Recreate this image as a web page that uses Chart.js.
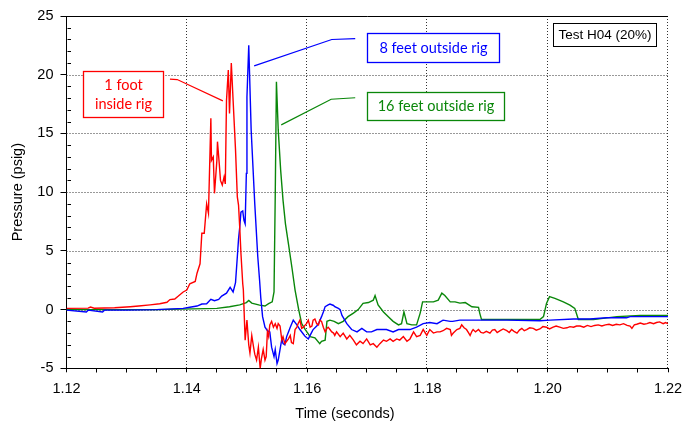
<!DOCTYPE html>
<html>
<head>
<meta charset="utf-8">
<script src="https://cdn.jsdelivr.net/npm/chart.js@4.4.1/dist/chart.umd.min.js"></script>
<style>
  html, body { margin: 0; padding: 0; background: #fff; }
  canvas { display: block; }
</style>
</head>
<body>
<canvas id="chart" width="695" height="428"></canvas>
<script>
// Axis tick labels
const xTickLabels = ['1.12', '1.14', '1.16', '1.18', '1.20', '1.22'];
const yTickLabels = ['-5', '0', '5', '10', '15', '20', '25'];

// Gauge names
const seriesNames = ['1 foot inside rig', '8 feet outside rig', '16 feet outside rig'];

// Pressure traces: [time (s), pressure (psig)]
const redTrace = [
  [1.1200,0.10],[1.1236,0.12],[1.1240,0.22],[1.1246,0.12],[1.1280,0.15],[1.1306,0.24],[1.1320,0.30],[1.1339,0.40],[1.1355,0.50],[1.1367,0.62],
  [1.1372,0.85],[1.1380,0.90],[1.1386,1.15],[1.1394,1.50],[1.1400,1.66],[1.1405,2.20],[1.1414,2.40],[1.1417,3.10],[1.1422,3.90],[1.1425,6.50],
  [1.1429,6.50],[1.1433,9.00],[1.1436,8.20],[1.1440,16.30],[1.1441,12.70],[1.1444,13.00],[1.1446,9.90],[1.1450,12.70],[1.1451,14.30],[1.1454,12.40],
  [1.1456,11.00],[1.1459,10.60],[1.1462,11.30],[1.1464,10.70],[1.1466,17.80],[1.1469,20.40],[1.1471,16.70],[1.1474,21.00],[1.1477,17.80],[1.1481,13.60],
  [1.1484,9.60],[1.1486,8.90],[1.1488,7.00],[1.1490,4.80],[1.1493,2.20],[1.1494,1.70],[1.1497,-2.60],[1.1500,-0.90],[1.1503,-3.00],[1.1505,-3.70],
  [1.1508,-2.20],[1.1511,-3.20],[1.1513,-3.80],[1.1516,-4.30],[1.1519,-3.20],[1.1522,-5.00],[1.1524,-4.20],[1.1527,-3.40],[1.1530,-4.30],[1.1532,-4.00],
  [1.1534,-1.90],[1.1536,-2.30],[1.1538,-1.30],[1.1541,-1.00],[1.1544,-1.50],[1.1547,-1.20],[1.1550,-1.60],[1.1552,-1.20],[1.1555,-1.40],[1.1558,-2.60],
  [1.1560,-2.30],[1.1563,-2.90],[1.1566,-2.70],[1.1569,-2.50],[1.1572,-2.20],[1.1574,-2.80],[1.1577,-2.90],[1.1580,-1.70],[1.1583,-1.50],[1.1585,-1.20],
  [1.1588,-0.90],[1.1591,-1.60],[1.1594,-1.50],[1.1597,-1.30],[1.1599,-1.20],[1.1602,-0.90],[1.1605,-1.50],[1.1608,-1.40],[1.1610,-0.90],[1.1613,-0.80],
  [1.1616,-1.20],[1.1619,-1.30],[1.1621,-0.90],[1.1624,-1.00],[1.1627,-1.50],[1.1630,-1.90],[1.1633,-1.60],[1.1635,-1.50],[1.1638,-1.70],[1.1641,-1.90],
  [1.1644,-2.00],[1.1646,-2.20],[1.1649,-1.90],[1.1655,-2.30],[1.1660,-2.00],[1.1666,-2.50],[1.1671,-2.20],[1.1677,-2.60],[1.1682,-3.00],[1.1688,-2.70],
  [1.1693,-2.90],[1.1699,-2.50],[1.1705,-3.00],[1.1710,-2.90],[1.1716,-3.20],[1.1721,-2.90],[1.1727,-2.60],[1.1732,-2.70],[1.1738,-2.50],[1.1743,-2.70],
  [1.1749,-2.50],[1.1754,-2.60],[1.1760,-2.30],[1.1766,-2.70],[1.1771,-2.50],[1.1777,-1.90],[1.1782,-2.30],[1.1788,-2.20],[1.1793,-1.70],[1.1799,-2.20],
  [1.1804,-1.70],[1.1810,-2.00],[1.1816,-1.90],[1.1821,-1.90],[1.1826,-1.80],[1.1832,-1.60],[1.1838,-1.70],[1.1840,-2.20],[1.1843,-2.00],[1.1849,-1.70],
  [1.1854,-1.60],[1.1857,-1.30],[1.1861,-1.55],[1.1865,-1.70],[1.1868,-1.95],[1.1871,-2.20],[1.1874,-1.85],[1.1876,-1.70],[1.1880,-1.90],[1.1885,-1.70],
  [1.1889,-1.95],[1.1893,-2.00],[1.1898,-1.85],[1.1904,-2.00],[1.1908,-1.75],[1.1912,-1.70],[1.1916,-1.95],[1.1921,-1.80],[1.1926,-1.65],[1.1932,-1.80],
  [1.1936,-1.95],[1.1940,-1.70],[1.1944,-1.85],[1.1949,-2.00],[1.1953,-1.75],[1.1957,-1.60],[1.1961,-1.80],[1.1965,-1.70],[1.1970,-1.55],[1.1976,-1.60],
  [1.1981,-1.75],[1.1987,-1.65],[1.1992,-1.45],[1.1998,-1.50],[1.2003,-1.65],[1.2009,-1.50],[1.2014,-1.40],[1.2020,-1.50],[1.2026,-1.60],[1.2032,-1.55],
  [1.2037,-1.45],[1.2043,-1.50],[1.2048,-1.40],[1.2054,-1.40],[1.2060,-1.50],[1.2066,-1.35],[1.2072,-1.45],[1.2078,-1.35],[1.2084,-1.30],[1.2090,-1.40],
  [1.2096,-1.30],[1.2102,-1.25],[1.2108,-1.35],[1.2114,-1.25],[1.2120,-1.30],[1.2126,-1.20],[1.2132,-1.35],[1.2137,-1.40],[1.2140,-1.60],[1.2144,-1.30],
  [1.2148,-1.25],[1.2154,-1.15],[1.2160,-1.25],[1.2165,-1.20],[1.2170,-1.10],[1.2176,-1.20],[1.2181,-1.10],[1.2186,-1.05],[1.2192,-1.20],[1.2196,-1.10],
  [1.2200,-1.20]
];

const blueTrace = [
  [1.1200,-0.05],[1.1233,-0.20],[1.1236,-0.05],[1.1260,-0.20],[1.1263,-0.05],[1.1300,-0.05],[1.1350,0.00],[1.1394,0.10],[1.1405,0.20],[1.1417,0.30],
  [1.1425,0.47],[1.1433,0.50],[1.1440,0.87],[1.1446,0.75],[1.1453,0.87],[1.1458,1.15],[1.1466,1.40],[1.1472,1.90],[1.1477,1.50],[1.1481,2.30],
  [1.1484,4.50],[1.1486,6.00],[1.1488,7.00],[1.1490,8.30],[1.1493,8.40],[1.1495,7.60],[1.1497,7.30],[1.1499,11.60],[1.1500,18.10],[1.1503,22.50],
  [1.1507,15.30],[1.1513,9.00],[1.1518,4.50],[1.1521,2.50],[1.1523,1.00],[1.1526,-0.60],[1.1530,-1.50],[1.1534,-1.80],[1.1538,-1.90],[1.1541,-3.20],
  [1.1545,-4.00],[1.1547,-3.40],[1.1550,-4.60],[1.1552,-4.30],[1.1555,-3.40],[1.1558,-2.50],[1.1560,-2.90],[1.1563,-3.00],[1.1566,-2.30],[1.1569,-1.90],
  [1.1572,-1.50],[1.1577,-0.90],[1.1583,-1.30],[1.1588,-1.70],[1.1594,-2.10],[1.1597,-2.30],[1.1602,-2.50],[1.1608,-1.90],[1.1610,-1.70],[1.1616,-1.40],
  [1.1619,-1.20],[1.1624,-0.60],[1.1627,-0.20],[1.1630,0.25],[1.1635,0.40],[1.1638,0.47],[1.1644,0.35],[1.1646,0.25],[1.1652,0.10],[1.1655,0.00],
  [1.1658,-0.50],[1.1666,-1.20],[1.1674,-1.70],[1.1683,-1.90],[1.1691,-1.60],[1.1699,-1.90],[1.1707,-1.90],[1.1716,-1.70],[1.1724,-1.70],[1.1732,-1.70],
  [1.1743,-1.90],[1.1752,-1.70],[1.1760,-1.70],[1.1771,-1.70],[1.1782,-1.50],[1.1793,-1.20],[1.1804,-1.10],[1.1816,-1.20],[1.1826,-0.90],[1.1838,-1.00],
  [1.1842,-1.00],[1.1854,-0.90],[1.1876,-0.90],[1.1932,-0.90],[1.1987,-0.95],[1.2004,-0.90],[1.2043,-0.80],[1.2070,-0.80],[1.2098,-0.70],[1.2131,-0.70],
  [1.2137,-0.60],[1.2200,-0.60]
];

const greenTrace = [
  [1.1200,0.00],[1.1350,0.00],[1.1450,0.10],[1.1471,0.24],[1.1488,0.40],[1.1499,0.60],[1.1503,0.78],[1.1508,0.55],[1.1521,0.38],[1.1530,0.30],
  [1.1536,0.50],[1.1542,0.66],[1.1545,1.50],[1.1547,9.60],[1.1549,19.40],[1.1552,15.30],[1.1556,11.90],[1.1560,9.30],[1.1564,7.30],[1.1569,5.60],
  [1.1575,3.50],[1.1580,1.66],[1.1586,0.00],[1.1591,-1.20],[1.1597,-1.70],[1.1605,-2.30],[1.1613,-2.40],[1.1621,-2.90],[1.1624,-2.70],[1.1630,-2.60],
  [1.1633,-1.00],[1.1638,-0.90],[1.1645,-1.00],[1.1652,-1.20],[1.1660,-1.00],[1.1668,-0.60],[1.1677,-0.30],[1.1685,0.00],[1.1693,0.53],[1.1702,0.60],
  [1.1710,0.80],[1.1713,1.20],[1.1718,0.40],[1.1727,-0.20],[1.1735,-0.60],[1.1743,-1.00],[1.1752,-1.30],[1.1757,-1.20],[1.1761,-0.20],[1.1766,-1.20],
  [1.1774,-1.30],[1.1782,-1.30],[1.1788,-0.30],[1.1792,0.66],[1.1799,0.66],[1.1810,0.66],[1.1818,0.80],[1.1824,1.40],[1.1829,1.20],[1.1838,0.66],
  [1.1846,0.66],[1.1854,0.55],[1.1863,0.60],[1.1874,0.24],[1.1885,0.19],[1.1887,-0.30],[1.1890,-0.85],[1.1932,-0.85],[1.1987,-0.85],[1.1993,-0.60],
  [1.1998,0.53],[1.2003,1.10],[1.2012,0.95],[1.2026,0.66],[1.2037,0.38],[1.2045,0.10],[1.2051,-0.85],[1.2076,-0.85],[1.2092,-0.75],[1.2115,-0.60],
  [1.2154,-0.50],[1.2200,-0.50]
];

const RED = '#ff0000', BLUE = '#0000ff', GREEN = '#0a870a';
const toXY = trace => trace.map(([x, y]) => ({ x, y }));

// Callout boxes and leader lines, placed in axis units
const callouts = [
  { lines: ['1 foot', 'inside rig'], color: RED,
    box: [1.1227, 20.34, 1.1360, 16.43],
    leader: [[1.1372, 19.62], [1.1384, 19.59], [1.1460, 17.77]] },
  { lines: ['8 feet outside rig'], color: BLUE,
    box: [1.1699, 23.51, 1.1918, 21.04],
    leader: [[1.1512, 20.75], [1.1641, 23.00], [1.1680, 23.08]] },
  { lines: ['16 feet outside rig'], color: GREEN,
    box: [1.1699, 18.49, 1.1926, 16.13],
    leader: [[1.1557, 15.73], [1.1640, 17.91], [1.1680, 18.04]] }
];
const testLabel = { text: 'Test H04 (20%)', box: [1.2008, 24.44, 1.2180, 22.45] };

const AXIS_FONT = '"Liberation Sans", Arial, sans-serif';
const NOTE_FONT = 'Lato, "Open Sans", sans-serif';

const frame = {
  id: 'frame',
  beforeDatasetsDraw(chart) {
    const { ctx, chartArea: a, scales: { x, y } } = chart;
    ctx.save();
    ctx.strokeStyle = '#333';
    ctx.lineWidth = 1;
    ctx.setLineDash([1, 2]);
    xTickLabels.slice(1).forEach(l => {
      const px = Math.round(x.getPixelForValue(parseFloat(l))) - 0.5;
      ctx.beginPath(); ctx.moveTo(px, a.top); ctx.lineTo(px, a.bottom); ctx.stroke();
    });
    yTickLabels.slice(1, -1).forEach(l => {
      const py = Math.round(y.getPixelForValue(parseFloat(l))) + 0.5;
      ctx.beginPath(); ctx.moveTo(a.left, py); ctx.lineTo(a.right, py); ctx.stroke();
    });
    ctx.restore();
  },
  afterDatasetsDraw(chart) {
    const { ctx, chartArea: a, scales: { x, y } } = chart;
    ctx.save();
    // top edge of the plot frame
    ctx.strokeStyle = '#000';
    ctx.lineWidth = 1;
    const top = Math.round(a.top) + 0.5;
    ctx.beginPath(); ctx.moveTo(a.left, top); ctx.lineTo(a.right, top); ctx.stroke();

    // minor ticks
    const yAxisPx = Math.round(a.left) + 0.5;
    for (let v = -4; v <= 24; v++) {
      if (v % 5 === 0) continue;
      const py = Math.round(y.getPixelForValue(v)) + 0.5;
      ctx.beginPath(); ctx.moveTo(yAxisPx, py); ctx.lineTo(yAxisPx + 3.5, py); ctx.stroke();
    }
    const xAxisPx = Math.round(a.bottom) + 0.5;
    for (let k = 1; k < 20; k++) {
      if (k % 4 === 0) continue;
      const px = Math.round(x.getPixelForValue(1.12 + k * 0.005)) - 0.5;
      ctx.beginPath(); ctx.moveTo(px, xAxisPx); ctx.lineTo(px, xAxisPx + 4); ctx.stroke();
    }

    // callouts
    const P = (t, p) => [x.getPixelForValue(t), y.getPixelForValue(p)];
    callouts.forEach(c => {
      ctx.strokeStyle = c.color;
      ctx.lineWidth = 1.2;
      ctx.beginPath();
      c.leader.forEach(([t, p], i) => {
        const [px, py] = P(t, p);
        i ? ctx.lineTo(px, py) : ctx.moveTo(px, py);
      });
      ctx.stroke();
      const [x1, y1] = P(c.box[0], c.box[1]);
      const [x2, y2] = P(c.box[2], c.box[3]);
      const bx = Math.round(x1) + 0.5, by = Math.round(y1) + 0.5;
      const bw = Math.round(x2 - x1), bh = Math.round(y2 - y1);
      ctx.fillStyle = '#fff';
      ctx.fillRect(bx, by, bw, bh);
      ctx.lineWidth = 1.3;
      ctx.strokeRect(bx, by, bw, bh);
      ctx.fillStyle = c.color;
      ctx.font = '14.5px ' + NOTE_FONT;
      ctx.textAlign = 'center';
      ctx.textBaseline = 'middle';
      const cx = bx + bw / 2, cy = by + bh / 2;
      const lh = 19;
      c.lines.forEach((line, i) => {
        ctx.fillText(line, cx, cy + (i - (c.lines.length - 1) / 2) * lh);
      });
    });

    // test label
    {
      const [x1, y1] = P(testLabel.box[0], testLabel.box[1]);
      const [x2, y2] = P(testLabel.box[2], testLabel.box[3]);
      const bx = Math.round(x1) + 0.5, by = Math.round(y1) + 0.5;
      const bw = Math.round(x2 - x1), bh = Math.round(y2 - y1);
      ctx.fillStyle = '#fff';
      ctx.fillRect(bx, by, bw, bh);
      ctx.strokeStyle = '#000';
      ctx.lineWidth = 1;
      ctx.strokeRect(bx, by, bw, bh);
      ctx.fillStyle = '#000';
      ctx.font = '13.5px ' + AXIS_FONT;
      ctx.textAlign = 'center';
      ctx.textBaseline = 'middle';
      ctx.fillText(testLabel.text, bx + bw / 2, by + bh / 2 + 0.5);
    }

    // axis titles
    ctx.fillStyle = '#000';
    ctx.font = '14.5px ' + AXIS_FONT;
    ctx.textAlign = 'center';
    ctx.textBaseline = 'middle';
    ctx.fillText('Time (seconds)', 345, 414);
    ctx.translate(18, (a.top + a.bottom) / 2);
    ctx.rotate(-Math.PI / 2);
    ctx.fillText('Pressure (psig)', 0, 0);
    ctx.restore();
  }
};

const lineStyle = color => ({
  borderColor: color, backgroundColor: color, borderWidth: 1.4,
  pointRadius: 0, tension: 0, fill: false
});

new Chart(document.getElementById('chart'), {
  type: 'line',
  data: {
    datasets: [
      { label: seriesNames[0], data: toXY(redTrace), ...lineStyle(RED) },
      { label: seriesNames[1], data: toXY(blueTrace), ...lineStyle(BLUE) },
      { label: seriesNames[2], data: toXY(greenTrace), ...lineStyle(GREEN) }
    ]
  },
  options: {
    responsive: false,
    animation: false,
    devicePixelRatio: 1,
    layout: { padding: { left: 0, right: 27, top: 16, bottom: 0 } },
    plugins: { legend: { display: false }, tooltip: { enabled: false } },
    scales: {
      x: {
        type: 'linear',
        min: parseFloat(xTickLabels[0]),
        max: parseFloat(xTickLabels[xTickLabels.length - 1]),
        afterBuildTicks: s => { s.ticks = xTickLabels.map(l => ({ value: parseFloat(l) })); },
        afterFit: s => { s.height = 59.7; },
        ticks: {
          autoSkip: false, maxRotation: 0, padding: 8, color: '#000',
          font: { family: AXIS_FONT, size: 14.5 },
          callback: (v, i) => xTickLabels[i]
        },
        grid: { drawOnChartArea: false, drawTicks: true, tickLength: 4, color: '#000', lineWidth: 1 },
        border: { display: true, color: '#000', width: 1 }
      },
      y: {
        type: 'linear',
        min: parseFloat(yTickLabels[0]),
        max: parseFloat(yTickLabels[yTickLabels.length - 1]),
        afterBuildTicks: s => { s.ticks = yTickLabels.map(l => ({ value: parseFloat(l) })); },
        afterFit: s => { s.width = 66.5; },
        ticks: {
          autoSkip: false, padding: 7, color: '#000',
          font: { family: AXIS_FONT, size: 14.5 },
          callback: (v, i) => yTickLabels[i]
        },
        grid: { drawOnChartArea: false, drawTicks: true, tickLength: 6, color: '#000', lineWidth: 1 },
        border: { display: true, color: '#000', width: 1 }
      }
    }
  },
  plugins: [frame]
});
</script>
</body>
</html>
